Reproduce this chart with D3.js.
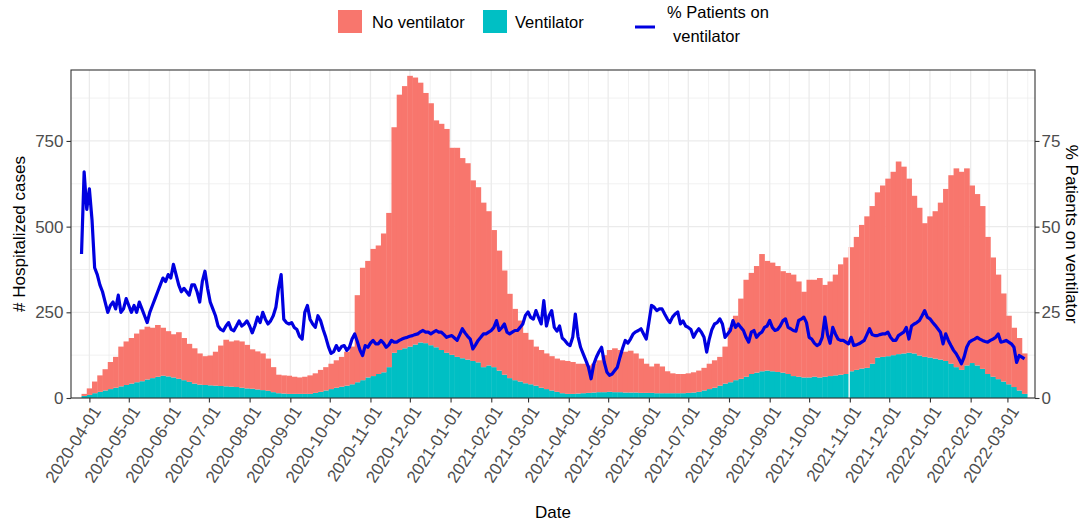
<!DOCTYPE html>
<html>
<head>
<meta charset="utf-8">
<script src="https://cdn.jsdelivr.net/npm/d3@7"></script>
<style>
  body { margin: 0; background: #fff; }
  svg text { font-family: "Liberation Sans", Arial, Helvetica, sans-serif; }
</style>
</head>
<body>
<div id="chart"></div>
<script>
// bars are 4-day bins starting at startDate, line points every 2 days
var startDate = "2020-03-26";
var binDays = 4;
var lineStep = 2;

// total hospitalized (top of the stack)
var hospitalized = [
  12, 28, 48, 66, 84, 105, 120, 150, 165, 175,
  188, 200, 208, 205, 213, 205, 195, 186, 192, 175,
  158, 145, 130, 122, 124, 135, 153, 170, 165, 168,
  165, 155, 142, 136, 130, 115, 90, 68, 66, 65,
  62, 60, 62, 66, 72, 82, 90, 100, 110, 120,
  135, 150, 300, 380, 400, 435, 445, 480, 540, 790,
  885, 910, 940, 935, 920, 890, 860, 810, 800, 785,
  730, 730, 700, 685, 635, 615, 570, 545, 490, 430,
  372, 304, 260, 226, 190, 170, 150, 140, 130, 122,
  115, 110, 108, 105, 100, 100, 95, 100, 110, 125,
  140, 145, 140, 135, 138, 130, 115, 100, 92, 100,
  92, 78, 72, 70, 70, 72, 75, 80, 88, 100,
  110, 120, 150, 205, 240, 290, 345, 365, 385, 420,
  400, 395, 385, 370, 365, 360, 340, 310, 345, 345,
  350, 330, 340, 360, 390, 410, 440, 470, 505, 530,
  560, 600, 620, 640, 660, 690, 675, 640, 590, 555,
  510, 530, 545, 570, 610, 650, 670, 660, 670, 620,
  595, 560, 470, 410, 360, 305, 240, 205, 175, 130
];

var ventilator = [
  6, 9, 14, 18, 22, 26, 30, 34, 38, 42,
  46, 49, 54, 58, 62, 65, 63, 60, 56, 52,
  47, 42, 39, 38, 37, 36, 35, 34, 33, 32,
  30, 28, 27, 25, 23, 21, 17, 14, 13, 12,
  12, 12, 12, 12, 15, 18, 22, 26, 30, 33,
  36, 40, 46, 52, 60, 64, 70, 75, 90, 132,
  140, 145, 150, 156, 162, 160, 154, 148, 140, 132,
  126, 120, 116, 112, 108, 104, 90, 95, 90, 80,
  68, 58, 52, 48, 43, 40, 36, 30, 26, 22,
  18, 14, 12, 12, 13, 14, 15, 16, 17, 17,
  18, 17, 17, 16, 16, 16, 15, 15, 15, 14,
  14, 14, 14, 14, 14, 15, 16, 18, 22, 26,
  30, 36, 42, 46, 52, 56, 62, 70, 74, 78,
  80, 78, 76, 74, 70, 64, 62, 60, 60, 62,
  60, 62, 64, 66, 68, 70, 78, 82, 86, 88,
  100, 118, 120, 122, 125, 128, 130, 132, 130, 124,
  120, 118, 115, 112, 108, 100, 90, 82, 95, 102,
  95, 85, 70, 62, 55, 48, 40, 32, 22, 12
];

var pctVentilator = [
  42, 66, 55, 61, 52, 38, 36, 33, 31, 28,
  25, 27, 28, 26, 30, 25, 26, 29, 27, 25,
  27, 25, 28, 26, 24, 22, 25, 27, 29, 31,
  33, 35, 34, 36, 35, 39, 36, 33, 31, 32,
  31, 30, 33, 33, 31, 28, 34, 37, 32, 28,
  26, 24, 21, 20, 19.6, 21, 22, 20, 19.6, 21,
  22.5, 21, 21.6, 22.5, 21, 19, 21, 23.6, 22, 25,
  23, 21.6, 22.5, 24, 26.5, 32, 36, 23, 22, 21.6,
  22, 20.6, 20, 18, 17.2, 25, 27, 23, 21.6, 20.6,
  24, 22.6, 20, 17.7, 15, 13, 13.5, 15.3, 13.9, 15,
  15.3, 13.9, 14.8, 17.2, 18.7, 16.5, 14, 12.4, 15.3, 14.8,
  16, 16.8, 15.8, 15.8, 16.8, 16, 14.8, 15.5, 16.8, 16.3,
  16.3, 16.8, 17.2, 17.5, 17.7, 18, 18.2, 18.5, 18.7, 19.3,
  19.7, 19.2, 19.2, 18.7, 19.2, 19.7, 19.2, 19.2, 18.5, 17.7,
  18, 18.2, 17.5, 16.8, 18.5, 20.2, 19, 18, 17.2, 14.3,
  15.5, 16.8, 17.7, 18.7, 18.7, 19.2, 19.7, 20.6, 22.6, 19.7,
  20.5, 21.6, 19.2, 18.7, 19.2, 19.7, 19.7, 20.6, 21.6, 24.1,
  25.1, 23.5, 23, 25.5, 23.5, 21.6, 28.4, 21, 24, 25.5,
  20.6, 19.5, 21, 17.5, 16.8, 15.8, 15.3, 17.7, 24.5, 18,
  14.8, 12.9, 11, 9, 5.6, 9.8, 11.9, 13.5, 14.8, 10.5,
  7.6, 6.6, 7, 8, 9, 11.9, 14.5, 16.8, 16, 17.2,
  18.7, 19.3, 19.7, 20.2, 18.7, 17.2, 22, 27, 26.5, 25.5,
  26, 26, 24.5, 23.1, 22, 23.6, 24.5, 25.1, 21.6, 22.5,
  21, 20.6, 20, 17.7, 19.2, 20.2, 19.2, 17.7, 13.4, 17.2,
  20, 21.6, 22, 23.1, 21.6, 17.7, 18.7, 19.7, 22.6, 20.6,
  21.6, 20.6, 19.7, 17.7, 16.3, 19.2, 19.7, 17.7, 18.7, 19.2,
  20.6, 21, 22.6, 20.6, 19.7, 20, 21, 22.5, 23.1, 20.6,
  20.2, 19.7, 19.5, 22.6, 23, 23.6, 22, 17.7, 17.2, 16,
  15.3, 15.8, 17.7, 23.6, 18.5, 16, 20.6, 18.7, 17.2, 16.8,
  16.8, 16.3, 15.8, 17.7, 15.3, 15.5, 15.8, 16.3, 16.8, 18.5,
  20.2, 18.5, 18.2, 18.2, 18.5, 18.7, 18.7, 19.2, 17.7, 16.8,
  16.8, 18.2, 18.7, 19.2, 20.6, 17.2, 21, 21.6, 22, 22.6,
  24, 25.5, 23.6, 23.1, 22.1, 21.2, 20.2, 19.2, 15.8, 18.7,
  16.8, 15.3, 13.9, 12.9, 11.5, 10, 11.9, 14.8, 16.3, 16.8,
  17.2, 17.7, 17.2, 16.8, 16.5, 16.3, 16.8, 17.2, 17.7, 18.7,
  16.3, 16.5, 16.8, 16.3, 15.8, 14.8, 10.4, 12.4, 11.9, 11.4
];

// a day with no report leaves a thin gap in the bars
var missingDays = ["2021-10-31"];

var dateTicks = [
  "2020-04-01", "2020-05-01", "2020-06-01", "2020-07-01", "2020-08-01", "2020-09-01",
  "2020-10-01", "2020-11-01", "2020-12-01", "2021-01-01", "2021-02-01", "2021-03-01",
  "2021-04-01", "2021-05-01", "2021-06-01", "2021-07-01", "2021-08-01", "2021-09-01",
  "2021-10-01", "2021-11-01", "2021-12-01", "2022-01-01", "2022-02-01", "2022-03-01"
];
var caseTicks = [0, 250, 500, 750];
var pctTicks = [0, 25, 50, 75];
var xLimits = ["2020-03-18", "2022-03-22"];
var caseLimit = 957;

var seriesNames = ["No ventilator", "Ventilator"];
var lineName = ["% Patients on", "ventilator"];

var red = "#F8766D", teal = "#00BFC4", blue = "#0000E0";
var tickColor = "#4D4D4D", gridColor = "#EBEBEB", borderColor = "#333333";

var parseDate = d3.utcParse("%Y-%m-%d");

drawChart();

function buildBins() {
    var start = parseDate(startDate);
    return hospitalized.map(function (total, i) {
        return {
            date: d3.utcDay.offset(start, i * binDays),
            end: d3.utcDay.offset(start, (i + 1) * binDays),
            vent: ventilator[i],
            noVent: total - ventilator[i]
        };
    });
}

function buildLine() {
    var start = parseDate(startDate);
    return pctVentilator.map(function (p, j) {
        return { date: d3.utcDay.offset(start, j * lineStep), pct: p };
    });
}

function binTotal(bins, day) {
    var bin = bins.find(function (b) { return day >= b.date && day < b.end; });
    return bin ? bin.vent + bin.noVent : 0;
}

function drawChart() {
    var w = 1085;
    var h = 525;
    var panel = { left: 71, top: 70, right: 1035, bottom: 398 };

    var bins = buildBins();
    var linePoints = buildLine();

    var svg = d3.select("#chart")
                .append("svg")
                .attr("width", w)
                .attr("height", h);

    var x = d3.scaleUtc()
              .domain(xLimits.map(parseDate))
              .range([panel.left, panel.right]);
    var y = d3.scaleLinear().domain([0, caseLimit]).range([panel.bottom, panel.top]);
    var yPct = d3.scaleLinear().domain([0, caseLimit / 10]).range([panel.bottom, panel.top]);

    // grid: minor first, then major
    var grid = svg.append("g");
    var minorY = d3.pairs(caseTicks.concat([1000])).map(function (p) { return (p[0] + p[1]) / 2; })
                   .filter(function (v) { return v < caseLimit; });
    var months = d3.utcMonth.range(parseDate("2020-03-01"), parseDate("2022-05-01"));
    var minorX = d3.pairs(months).map(function (p) { return new Date((+p[0] + +p[1]) / 2); })
                   .filter(function (d) { return x(d) > panel.left && x(d) < panel.right; });

    grid.selectAll(".minor-y").data(minorY).enter().append("line")
        .attr("x1", panel.left).attr("x2", panel.right)
        .attr("y1", function (d) { return y(d); }).attr("y2", function (d) { return y(d); })
        .attr("stroke", gridColor).attr("stroke-width", 0.7);
    grid.selectAll(".minor-x").data(minorX).enter().append("line")
        .attr("y1", panel.top).attr("y2", panel.bottom)
        .attr("x1", function (d) { return x(d); }).attr("x2", function (d) { return x(d); })
        .attr("stroke", gridColor).attr("stroke-width", 0.7);
    grid.selectAll(".major-y").data(caseTicks).enter().append("line")
        .attr("x1", panel.left).attr("x2", panel.right)
        .attr("y1", function (d) { return y(d); }).attr("y2", function (d) { return y(d); })
        .attr("stroke", gridColor).attr("stroke-width", 1.3);
    grid.selectAll(".major-x").data(dateTicks.map(parseDate)).enter().append("line")
        .attr("y1", panel.top).attr("y2", panel.bottom)
        .attr("x1", function (d) { return x(d); }).attr("x2", function (d) { return x(d); })
        .attr("stroke", gridColor).attr("stroke-width", 1.3);

    // stacked bars, ventilator at the bottom
    var stacked = d3.stack().keys(["vent", "noVent"])(bins);
    var colors = { vent: teal, noVent: red };

    svg.append("g").selectAll("g")
       .data(stacked)
       .enter()
       .append("g")
       .attr("fill", function (s) { return colors[s.key]; })
       .selectAll("rect")
       .data(function (s) { return s; })
       .enter()
       .append("rect")
       .attr("x", function (d) { return x(d.data.date); })
       .attr("width", function (d) { return x(d.data.end) - x(d.data.date) + 0.4; })
       .attr("y", function (d) { return y(d[1]); })
       .attr("height", function (d) { return y(d[0]) - y(d[1]); });

    svg.append("g").selectAll("rect")
       .data(missingDays.map(parseDate))
       .enter()
       .append("rect")
       .attr("x", function (d) { return x(d); })
       .attr("width", function (d) { return x(d3.utcDay.offset(d, 1)) - x(d); })
       .attr("y", function (d) { return y(binTotal(bins, d)); })
       .attr("height", function (d) { return y(0) - y(binTotal(bins, d)); })
       .attr("fill", "#fff");

    // % on ventilator line
    var line = d3.line()
                 .x(function (d) { return x(d.date); })
                 .y(function (d) { return yPct(d.pct); });

    svg.append("path")
       .datum(linePoints)
       .attr("d", line)
       .attr("fill", "none")
       .attr("stroke", blue)
       .attr("stroke-width", 3.2)
       .attr("stroke-linejoin", "round");

    svg.append("rect")
       .attr("x", panel.left).attr("y", panel.top)
       .attr("width", panel.right - panel.left).attr("height", panel.bottom - panel.top)
       .attr("fill", "none").attr("stroke", borderColor).attr("stroke-width", 1.1);

    // axes
    var leftAxis = svg.append("g")
        .attr("transform", "translate(" + panel.left + ",0)")
        .call(d3.axisLeft(y).tickValues(caseTicks).tickSize(4.5).tickPadding(3));
    var rightAxis = svg.append("g")
        .attr("transform", "translate(" + panel.right + ",0)")
        .call(d3.axisRight(yPct).tickValues(pctTicks).tickSize(4.5).tickPadding(2));
    var bottomAxis = svg.append("g")
        .attr("transform", "translate(0," + panel.bottom + ")")
        .call(d3.axisBottom(x).tickValues(dateTicks.map(parseDate))
                 .tickFormat(d3.utcFormat("%Y-%m-%d")).tickSize(4.5));

    [leftAxis, rightAxis, bottomAxis].forEach(function (a) {
        a.select(".domain").remove();
        a.selectAll(".tick line").attr("stroke", borderColor).attr("stroke-width", 1.1);
        a.selectAll(".tick text")
         .attr("fill", tickColor)
         .style("font-size", "17px")
         .style("font-family", "'Liberation Sans', Arial, sans-serif");
    });

    bottomAxis.selectAll(".tick text")
        .attr("x", 0)
        .attr("y", 0)
        .attr("dy", "0.75em")
        .attr("text-anchor", "end")
        .attr("transform", "translate(1,6) rotate(-57)");

    // axis titles
    svg.append("text")
       .attr("transform", "translate(25," + (panel.top + panel.bottom) / 2 + ") rotate(-90)")
       .attr("text-anchor", "middle")
       .style("font-size", "17px")
       .text("# Hospitalized cases");
    svg.append("text")
       .attr("transform", "translate(1066," + (panel.top + panel.bottom) / 2 + ") rotate(90)")
       .attr("text-anchor", "middle")
       .style("font-size", "17px")
       .text("% Patients on ventilator");
    svg.append("text")
       .attr("x", (panel.left + panel.right) / 2)
       .attr("y", 518)
       .attr("text-anchor", "middle")
       .style("font-size", "17px")
       .text("Date");

    // legend
    var legend = svg.append("g").style("font-size", "16.5px");
    var keys = [
        { name: seriesNames[0], color: red, x: 338, tx: 372 },
        { name: seriesNames[1], color: teal, x: 483, tx: 515 }
    ];
    legend.selectAll("rect").data(keys).enter().append("rect")
          .attr("x", function (d) { return d.x; }).attr("y", 10)
          .attr("width", 24).attr("height", 23)
          .attr("fill", function (d) { return d.color; });
    legend.selectAll(".key-text").data(keys).enter().append("text")
          .attr("x", function (d) { return d.tx; }).attr("y", 28)
          .text(function (d) { return d.name; });
    legend.append("line")
          .attr("x1", 635).attr("x2", 655).attr("y1", 27).attr("y2", 27)
          .attr("stroke", blue).attr("stroke-width", 3);
    legend.append("text").attr("x", 667).attr("y", 18).text(lineName[0]);
    legend.append("text").attr("x", 673).attr("y", 42).text(lineName[1]);
}
</script>
</body>
</html>
